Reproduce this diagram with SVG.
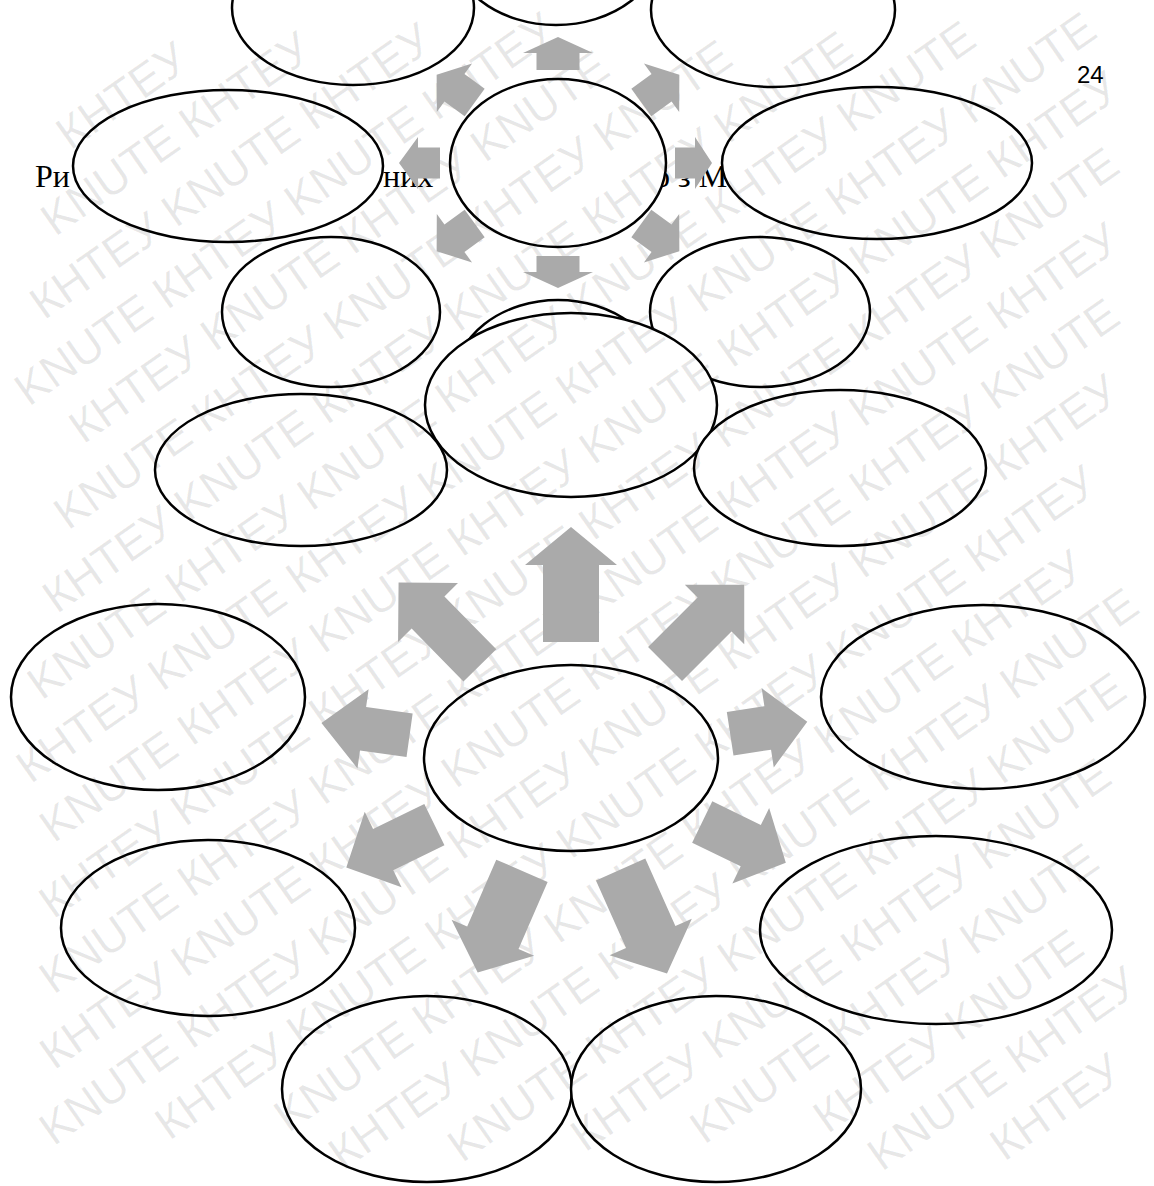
<svg xmlns="http://www.w3.org/2000/svg" width="1154" height="1186" viewBox="0 0 1154 1186">
<style>
.cap{font-family:"Liberation Serif","Times New Roman",serif;font-size:32px;fill:#000}
.pg{font-family:"Liberation Sans",Arial,sans-serif;font-size:24px;fill:#000}
.node ellipse{fill:#fff;stroke:#000;stroke-width:2.5}
.arr{fill:#aaaaaa;stroke:none}
.wm{font-family:"Liberation Sans",Arial,sans-serif;font-size:46px;fill:#000;fill-opacity:0.09}
</style>
<rect width="1154" height="1186" fill="#fff"/>
<g id="caption">
<text class="cap" x="35" y="187">Ри</text>
<text class="cap" x="383" y="187">них</text>
<text class="cap" x="654" y="187">о з М</text>
<text class="pg" x="1077" y="83">24</text>
</g>
<g id="nodes">
<g id="s-top" class="node"><ellipse cx="556" cy="-59" rx="107" ry="84"/></g>
<g id="s-top-left" class="node"><ellipse cx="353" cy="8" rx="121" ry="77"/></g>
<g id="s-top-right" class="node"><ellipse cx="773" cy="10" rx="122" ry="77"/></g>
<g id="s-center" class="node"><ellipse cx="558" cy="163" rx="108" ry="84"/></g>
<g id="s-left" class="node"><ellipse cx="228" cy="166" rx="155" ry="76"/></g>
<g id="s-right" class="node"><ellipse cx="877" cy="163" rx="155" ry="76"/></g>
<g id="s-low-left" class="node"><ellipse cx="331" cy="312" rx="109" ry="75"/></g>
<g id="s-low-right" class="node"><ellipse cx="760" cy="312" rx="110" ry="75"/></g>
<g id="s-bottom" class="node"><ellipse cx="558" cy="382" rx="104" ry="82"/></g>
<g id="b-top" class="node"><ellipse cx="571" cy="405" rx="146" ry="92"/></g>
<g id="b-top-left" class="node"><ellipse cx="301" cy="470" rx="146" ry="76"/></g>
<g id="b-top-right" class="node"><ellipse cx="840" cy="468" rx="146" ry="78"/></g>
<g id="b-left" class="node"><ellipse cx="158" cy="697" rx="147" ry="93"/></g>
<g id="b-right" class="node"><ellipse cx="983" cy="697" rx="162" ry="92"/></g>
<g id="b-center" class="node"><ellipse cx="571" cy="758" rx="147" ry="93"/></g>
<g id="b-low-left" class="node"><ellipse cx="208" cy="928" rx="147" ry="88"/></g>
<g id="b-low-right" class="node"><ellipse cx="936" cy="930" rx="176" ry="94"/></g>
<g id="b-bottom-left" class="node"><ellipse cx="427" cy="1089" rx="145" ry="93"/></g>
<g id="b-bottom-right" class="node"><ellipse cx="716" cy="1089" rx="145" ry="93"/></g>
</g>
<g id="watermark" class="wm" transform="rotate(-35)">
<text x="-29" y="164">КНТЕУ</text>
<text x="-91" y="226">KNUTE КНТЕУ</text>
<text x="-148" y="288">КНТЕУ KNUTE КНТЕУ</text>
<text x="-210" y="350">KNUTE КНТЕУ KNUTE КНТЕУ</text>
<text x="-187" y="412">КНТЕУ KNUTE КНТЕУ KNUTE</text>
<text x="-249" y="474">KNUTE КНТЕУ KNUTE КНТЕУ KNUTE</text>
<text x="-306" y="536">КНТЕУ KNUTE КНТЕУ KNUTE КНТЕУ KNUTE</text>
<text x="-368" y="598">KNUTE КНТЕУ KNUTE КНТЕУ KNUTE КНТЕУ KNUTE</text>
<text x="-425" y="660">КНТЕУ KNUTE КНТЕУ KNUTE КНТЕУ KNUTE КНТЕУ KNUTE</text>
<text x="-440" y="722">KNUTE КНТЕУ KNUTE КНТЕУ KNUTE КНТЕУ KNUTE КНТЕУ</text>
<text x="-484" y="784">КНТЕУ KNUTE КНТЕУ KNUTE КНТЕУ KNUTE КНТЕУ KNUTE</text>
<text x="-527" y="846">KNUTE КНТЕУ KNUTE КНТЕУ KNUTE КНТЕУ KNUTE КНТЕУ</text>
<text x="-570" y="908">КНТЕУ KNUTE КНТЕУ KNUTE КНТЕУ KNUTE КНТЕУ KNUTE</text>
<text x="-614" y="970">KNUTE КНТЕУ KNUTE КНТЕУ KNUTE КНТЕУ KNUTE КНТЕУ</text>
<text x="-516" y="1032">КНТЕУ KNUTE КНТЕУ KNUTE КНТЕУ KNUTE КНТЕУ</text>
<text x="-414" y="1094">KNUTE КНТЕУ KNUTE КНТЕУ KNUTE КНТЕУ</text>
<text x="-391" y="1156">КНТЕУ KNUTE КНТЕУ KNUTE КНТЕУ KNUTE</text>
<text x="-289" y="1218">KNUTE КНТЕУ KNUTE КНТЕУ KNUTE</text>
<text x="-182" y="1280">КНТЕУ KNUTE КНТЕУ KNUTE</text>
<text x="-80" y="1342">KNUTE КНТЕУ KNUTE</text>
<text x="27" y="1404">КНТЕУ KNUTE</text>
<text x="50" y="1466">KNUTE КНТЕУ</text>
<text x="156" y="1528">КНТЕУ</text>
</g>
<g id="connectors" class="arr">
<g transform="translate(558,163)">
<polygon transform="rotate(-90)" points="93,-21.5 110,-21.5 110,-35 126,0 110,35 110,21.5 93,21.5"/>
<polygon transform="rotate(90)" points="93,-21.5 109,-21.5 109,-35 125,0 109,35 109,21.5 93,21.5"/>
<polygon transform="rotate(0)" points="117,-15.5 137,-15.5 137,-26 154,0 137,26 137,15.5 117,15.5"/>
<polygon transform="rotate(180)" points="118,-15.5 140,-15.5 140,-26 159,0 140,26 140,15.5 118,15.5"/>
<polygon transform="rotate(-36)" points="103,-17 128,-17 128,-30 150,0 128,30 128,17 103,17"/>
<polygon transform="rotate(-144)" points="103,-17 128,-17 128,-30 150,0 128,30 128,17 103,17"/>
<polygon transform="rotate(36)" points="103,-17 128,-17 128,-30 150,0 128,30 128,17 103,17"/>
<polygon transform="rotate(144)" points="103,-17 128,-17 128,-30 150,0 128,30 128,17 103,17"/>
</g>
<g transform="translate(571,758)">
<polygon transform="rotate(-90)" points="116,-28 193,-28 193,-46 231,0 193,46 193,28 116,28"/>
<polygon transform="rotate(-134.5)" points="130,-23 204,-23 204,-42 246,0 204,42 204,23 130,23"/>
<polygon transform="rotate(-45)" points="133,-24 203,-24 203,-42 245,0 203,42 203,24 133,24"/>
<polygon transform="rotate(-172)" points="163,-22 210,-22 210,-40 252,0 210,40 210,22 163,22"/>
<polygon transform="rotate(-8.7)" points="161,-22 199,-22 199,-40 239,0 199,40 199,22 161,22"/>
<polygon transform="rotate(154)" points="152,-23 209,-23 209,-42 250,0 209,42 209,23 152,23"/>
<polygon transform="rotate(26)" points="146,-23 200,-23 200,-42 239,0 200,42 200,23 146,23"/>
<polygon transform="rotate(113.5)" points="123,-28 196,-28 196,-45 234,0 196,45 196,28 123,28"/>
<polygon transform="rotate(66)" points="122,-27 196,-27 196,-45 236,0 196,45 196,27 122,27"/>
</g>
</g>
</svg>
